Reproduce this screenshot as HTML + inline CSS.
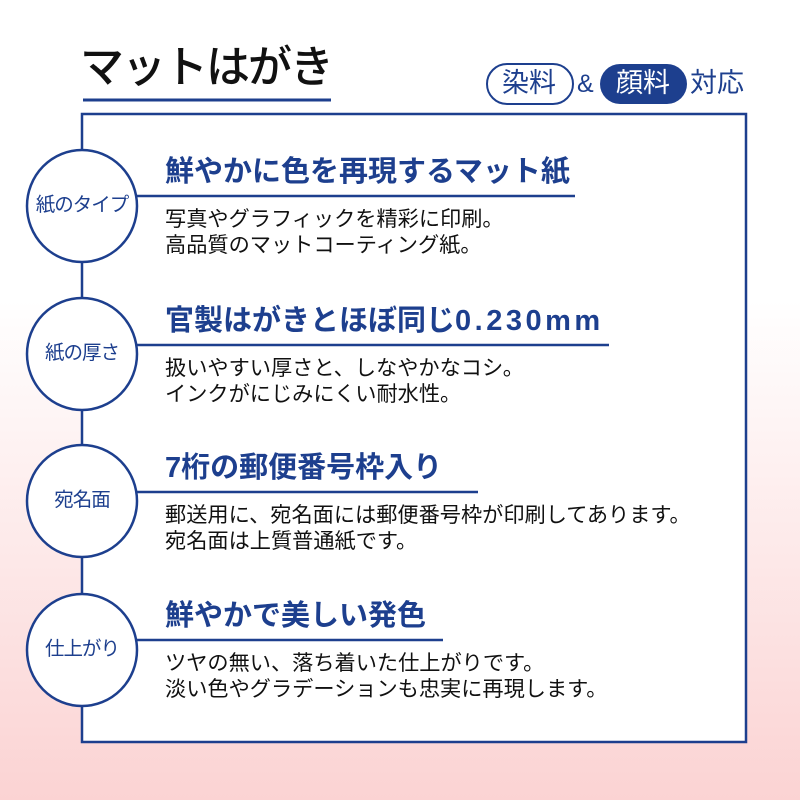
<!DOCTYPE html>
<html><head><meta charset="utf-8"><style>
body{margin:0;width:800px;height:800px;overflow:hidden;position:relative;font-family:"Liberation Sans","Noto Sans CJK JP",sans-serif;background:linear-gradient(#fff 0px,#fff 300px,#fbd3d3 800px);}
.t{position:absolute;white-space:nowrap;line-height:1;}
.h{color:#1d3f8e;font-size:29px;left:165px;font-weight:bold}
.b{color:#111;font-size:21.2px;left:165px;line-height:26px}
.c{color:#1d3f8e;font-size:19.5px;width:110px;text-align:center;left:27px;letter-spacing:-1px}
</style></head><body>
<svg width="800" height="800" style="position:absolute;left:0;top:0">
<rect x="82" y="114" width="664" height="628" fill="#fff" stroke="#1d3f8e" stroke-width="2.5"/>
<line x1="83" y1="100" x2="331" y2="100" stroke="#1d3f8e" stroke-width="3"/>
<g stroke="#1d3f8e" stroke-width="2.5" fill="#fff">
<ellipse cx="82" cy="206" rx="55" ry="56"/>
<ellipse cx="82" cy="354" rx="55" ry="56"/>
<ellipse cx="82" cy="501" rx="55" ry="56"/>
<ellipse cx="82" cy="650" rx="55" ry="56"/>
<line x1="137" y1="196" x2="575" y2="196"/>
<line x1="137" y1="345" x2="609" y2="345"/>
<line x1="137" y1="492" x2="478" y2="492"/>
<line x1="137" y1="640" x2="443" y2="640"/>
</g>
<rect x="487" y="64" width="86" height="40" rx="20" fill="#fff" stroke="#1d3f8e" stroke-width="2"/>
<rect x="600" y="64" width="87" height="40" rx="20" fill="#1d3f8e"/>
</svg>
<div class="t" style="left:80px;top:46px;font-size:44px;color:#111;font-weight:500;letter-spacing:-2px">マットはがき</div>
<div class="t" style="left:502px;top:70px;font-size:27px;color:#1d3f8e">染料</div>
<div class="t" style="left:577px;top:72px;font-size:25px;color:#1d3f8e">&amp;</div>
<div class="t" style="left:616px;top:70px;font-size:27px;color:#fff">顔料</div>
<div class="t" style="left:690px;top:70px;font-size:27px;color:#1d3f8e">対応</div>

<div class="t c" style="top:196px">紙のタイプ</div>
<div class="t c" style="top:344px">紙の厚さ</div>
<div class="t c" style="top:491px">宛名面</div>
<div class="t c" style="top:640px">仕上がり</div>

<div class="t h" style="top:158px">鮮やかに色を再現するマット紙</div>
<div class="t b" style="top:207px">写真やグラフィックを精彩に印刷。<br>高品質のマットコーティング紙。</div>
<div class="t h" style="top:307px">官製はがきとほぼ同じ<span style="letter-spacing:3.5px">0.230mm</span></div>
<div class="t b" style="top:356px">扱いやすい厚さと、しなやかなコシ。<br>インクがにじみにくい耐水性。</div>
<div class="t h" style="top:454px">7桁の郵便番号枠入り</div>
<div class="t b" style="top:503px">郵送用に、宛名面には郵便番号枠が印刷してあります。<br>宛名面は上質普通紙です。</div>
<div class="t h" style="top:602px">鮮やかで美しい発色</div>
<div class="t b" style="top:651px">ツヤの無い、落ち着いた仕上がりです。<br>淡い色やグラデーションも忠実に再現します。</div>
</body></html>
